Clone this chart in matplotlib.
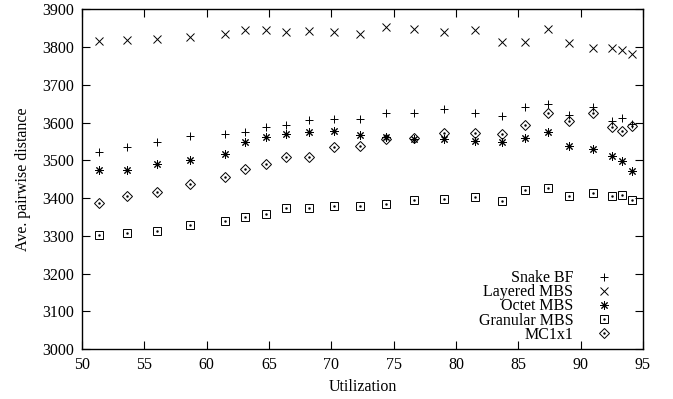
import matplotlib
matplotlib.use("Agg")
import matplotlib.pyplot as plt
from matplotlib.legend_handler import HandlerTuple

# Utilization values shared by all series
utilization = [51.4, 53.6, 56.0, 58.7, 61.5, 63.1, 64.8, 66.4, 68.2, 70.2, 72.3, 74.35,
               76.6, 79.0, 81.5, 83.7, 85.5, 87.4, 89.1, 91.0, 92.5, 93.3, 94.1]

snake_bf = [3522, 3536, 3548, 3564, 3569, 3575, 3589, 3594, 3607, 3609, 3609, 3625,
            3626, 3637, 3625, 3618, 3642, 3648, 3621, 3640, 3605, 3611, 3596]
layered_mbs = [3815, 3819, 3821, 3826, 3835, 3845, 3845, 3840, 3842, 3841, 3835, 3852,
               3847, 3840, 3844, 3814, 3814, 3847, 3810, 3797, 3797, 3792, 3782]
octet_mbs = [3474, 3474, 3491, 3502, 3517, 3549, 3561, 3569, 3574, 3578, 3567, 3561,
             3556, 3556, 3552, 3549, 3558, 3576, 3539, 3530, 3511, 3499, 3472]
granular_mbs = [3302, 3307, 3313, 3328, 3340, 3351, 3358, 3374, 3374, 3379, 3378, 3384,
                3394, 3397, 3402, 3393, 3421, 3427, 3406, 3412, 3406, 3407, 3395]
mc1x1 = [3388, 3405, 3416, 3437, 3457, 3476, 3490, 3510, 3510, 3535, 3538, 3556,
         3560, 3573, 3571, 3569, 3593, 3626, 3604, 3625, 3589, 3578, 3592]

xticks = [50, 55, 60, 65, 70, 75, 80, 85, 90, 95]
yticks = [3000, 3100, 3200, 3300, 3400, 3500, 3600, 3700, 3800, 3900]

plt.rcParams['font.family'] = ['Liberation Serif', 'DejaVu Serif']
plt.rcParams['font.size'] = 11.5

fig = plt.figure(figsize=(6.73, 3.99), dpi=100)
ax = fig.add_axes([0.1218, 0.1253, 0.8336, 0.8514])

ms = 6
lw = 0.7
common = dict(linestyle='none', color='black', markersize=ms, markeredgewidth=lw)

h1, = ax.plot(utilization, snake_bf, marker='+', **common)
h2, = ax.plot(utilization, layered_mbs, marker='x', **common)
h3, = ax.plot(utilization, octet_mbs, marker=(8, 2, 0), **common)
h4, = ax.plot(utilization, granular_mbs, marker='s', markerfacecolor='none', **common)
d4, = ax.plot(utilization, granular_mbs, marker='.', linestyle='none', color='black', markersize=1.5)
h5, = ax.plot(utilization, mc1x1, marker='D', markerfacecolor='none', linestyle='none',
              color='black', markersize=5, markeredgewidth=lw)
d5, = ax.plot(utilization, mc1x1, marker='.', linestyle='none', color='black', markersize=1.5)

ax.set_xlim(50, 95)
ax.set_ylim(3000, 3900)
ax.set_xticks(xticks)
ax.set_yticks(yticks)
ax.tick_params(direction='in', length=6, width=0.8, top=True, right=True, pad=6)
for s in ax.spines.values():
    s.set_linewidth(1.0)

ax.set_xlabel('Utilization', labelpad=4)
ax.set_ylabel('Ave. pairwise distance', labelpad=8)

# gnuplot style key: right-aligned text, symbol after it, tight rows
ax.legend([h1, h2, h3, (h4, d4), (h5, d5)],
          ['Snake BF', 'Layered MBS', 'Octet MBS', 'Granular MBS', 'MC1x1'],
          handler_map={tuple: HandlerTuple(ndivide=1)},
          loc='lower right', bbox_to_anchor=(0.964, 0.0), frameon=False, markerfirst=False,
          labelspacing=-0.12, handlelength=1.5, handletextpad=1.2,
          borderaxespad=0.0, fontsize=11.5)

fig.savefig('out.png', dpi=100)
